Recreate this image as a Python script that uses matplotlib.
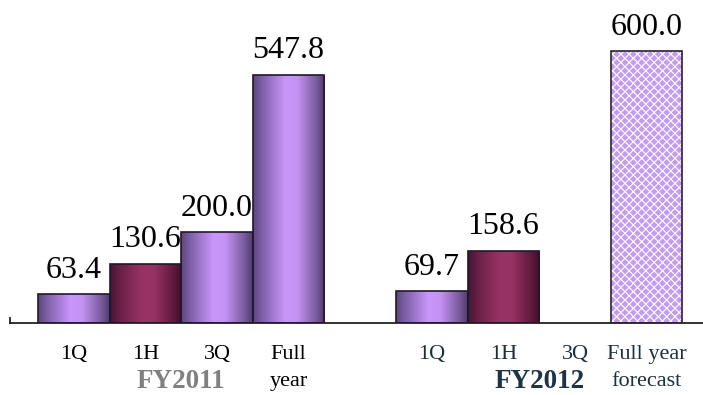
import matplotlib
matplotlib.use("Agg")
import matplotlib.pyplot as plt
import numpy as np
from matplotlib.colors import LinearSegmentedColormap

# ---- data ----
tick_labels = ["1Q", "1H", "3Q", "Full\nyear", "", "1Q", "1H", "3Q", "Full year\nforecast"]
values = [63.4, 130.6, 200.0, 547.8, None, 69.7, 158.6, None, 600.0]
styles = ["purple", "maroon", "purple", "purple", None, "purple", "maroon", None, "hatch"]
group_names = ["FY2011", "FY2012"]
group_centers = [1.5, 6.5]
group_colors = ["#808080", "#1c3448"]
tick_colors = ["black"] * 4 + ["black"] + ["#1a3040"] * 4

SERIF = "Liberation Serif"
plt.rcParams["hatch.linewidth"] = 0.8

purple_cmap = LinearSegmentedColormap.from_list(
    "purple_bar",
    [(0.0, "#5e4680"), (0.12, "#7d5ea6"), (0.45, "#c996fa"), (0.62, "#c492f2"),
     (0.88, "#7a5c9c"), (1.0, "#4e3a68")])
maroon_cmap = LinearSegmentedColormap.from_list(
    "maroon_bar",
    [(0.0, "#4a1433"), (0.15, "#6c2148"), (0.45, "#993366"), (0.62, "#963264"),
     (0.88, "#5e1b3d"), (1.0, "#3e1029")])

fig = plt.figure(figsize=(7.03, 3.95), dpi=100)
ax = fig.add_axes([10 / 703, 72 / 395, 693 / 703, 300 / 395])

grad = np.linspace(0, 1, 256).reshape(1, -1)
positions = np.arange(len(tick_labels))

for x, v, st in zip(positions, values, styles):
    if v is None:
        continue
    if st == "hatch":
        ax.bar(x, v, width=1.0, color="#c59bf2", edgecolor="white",
               hatch="xxxx", linewidth=0, zorder=2)
        outline = ax.bar(x, v, width=1.0, facecolor="none",
                         edgecolor="#2a2230", linewidth=1.2, zorder=3)
        ax.bar_label(outline, fmt="%.1f", padding=7, fontsize=23, family=SERIF)
    else:
        cmap = purple_cmap if st == "purple" else maroon_cmap
        bars = ax.bar(x, v, width=1.0, facecolor="none",
                      edgecolor="#22182a", linewidth=1.2, zorder=3)
        b = bars[0]
        im = ax.imshow(grad, extent=[b.get_x(), b.get_x() + b.get_width(), 0, b.get_height()],
                       aspect="auto", cmap=cmap, zorder=2, interpolation="bicubic")
        im.set_clip_path(b)
        ax.bar_label(bars, fmt="%.1f", padding=7, fontsize=23, family=SERIF)

ax.set_xlim(-0.891, 8.787)
ax.set_ylim(0, 662.7)

tick_pos = [p for p, t in zip(positions, tick_labels) if t]
tick_txt = [t for t in tick_labels if t]
tick_col = [c for c, t in zip(tick_colors, tick_labels) if t]
ax.set_xticks(tick_pos, tick_txt)
for lbl, c in zip(ax.get_xticklabels(), tick_col):
    lbl.set_color(c)
    lbl.set_fontfamily(SERIF)
    lbl.set_fontsize(16)
    lbl.set_linespacing(1.55)
ax.tick_params(axis="x", length=0, pad=16)
ax.set_yticks([])

for s in ["top", "right"]:
    ax.spines[s].set_visible(False)
ax.spines["bottom"].set_linewidth(1.3)
ax.spines["bottom"].set_color("#222222")
ax.spines["left"].set_bounds(0, 11)
ax.spines["left"].set_linewidth(1.3)
ax.spines["left"].set_color("#222222")

for name, cx, col in zip(group_names, group_centers, group_colors):
    ax.annotate(name, xy=(cx, 1), xycoords=("data", "figure pixels"),
                ha="center", va="bottom", fontsize=19.5, fontweight="bold",
                family=SERIF, color=col)

fig.savefig("out.png", dpi=100)
